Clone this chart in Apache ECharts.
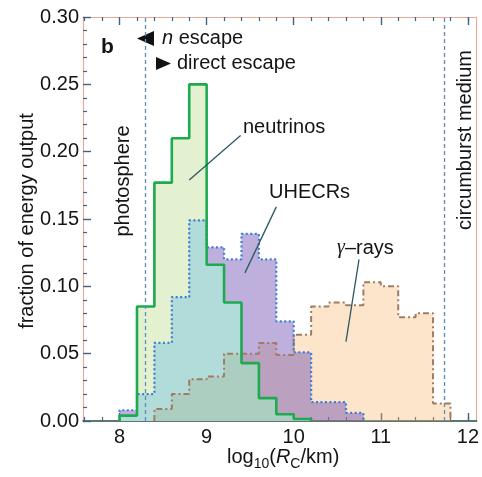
<!DOCTYPE html>
<html>
<head>
<meta charset="utf-8">
<script src="https://cdn.jsdelivr.net/npm/echarts@6/dist/echarts.min.js"></script>
<style>
  html, body { margin: 0; padding: 0; background: #fff; }
  #main { width: 482px; height: 477px; }
</style>
</head>
<body>
<div id="main"></div>
<script>
// histogram bins (left edge, width 0.2 in log10 R_C)
const binLeft = [8.0, 8.2, 8.4, 8.6, 8.8, 9.0, 9.2, 9.4, 9.6, 9.8, 10.0, 10.2, 10.4, 10.6, 10.8, 11.0, 11.2, 11.4, 11.6]
const binWidth = 0.2

// fraction of energy output per bin
const neutrinos = [0.004, 0.085, 0.177, 0.210, 0.250, 0.116, 0.088, 0.043, 0.017, 0.005, 0.0015, 0, 0, 0, 0, 0, 0, 0, 0]
const uhecrs    = [0.008, 0.020, 0.058, 0.092, 0.149, 0.129, 0.120, 0.139, 0.120, 0.074, 0.051, 0.014, 0.014, 0.006, 0, 0, 0, 0, 0]
const gammaRays = [0, 0, 0.009, 0.020, 0.031, 0.033, 0.050, 0.050, 0.058, 0.049, 0.064, 0.085, 0.088, 0.086, 0.103, 0.100, 0.077, 0.080, 0.013]

// axis ticks
const xMajorTicks = [8, 9, 10, 11, 12]
const xMinorTicks = [7.6, 7.8, 8.2, 8.4, 8.6, 8.8, 9.2, 9.4, 9.6, 9.8, 10.2, 10.4, 10.6, 10.8, 11.2, 11.4, 11.6, 11.8, 12.0]

// reference radii (vertical dashed lines)
const photosphereX = 8.30
const circumburstX = 11.73

// leader lines of the labels, in data coordinates
const neutrinoLeader = [[9.39, 0.212], [8.80, 0.179]]
const uhecrLeader = [[9.80, 0.159], [9.44, 0.110]]
const gammaLeader = [[10.75, 0.120], [10.60, 0.059]]

// overlap of the filled regions (Mathematica shades them differently)
const nuUh = neutrinos.map((v, i) => Math.min(v, uhecrs[i]))
const nuUhGa = nuUh.map((v, i) => Math.min(v, gammaRays[i]))

// turns bin values into the corner points of a step outline
function stepPoints(vals) {
  const first = vals.findIndex(v => v > 0)
  let last = vals.length - 1
  while (last >= 0 && !(vals[last] > 0)) last--
  const pts = [[binLeft[first], 0]]
  for (let i = first; i <= last; i++) pts.push([binLeft[i], vals[i]])
  pts.push([+(binLeft[last] + binWidth).toFixed(2), 0])
  return pts
}

function areaSeries(name, vals, color) {
  return {
    name: name, type: 'line', step: 'end', data: stepPoints(vals),
    showSymbol: false, silent: true,
    lineStyle: { width: 0, opacity: 0 },
    areaStyle: { color: color, opacity: 1 }
  }
}

function outlineSeries(name, vals, lineStyle) {
  return {
    name: name, type: 'line', step: 'end', data: stepPoints(vals),
    showSymbol: false, silent: true,
    lineStyle: lineStyle
  }
}

const FONT = '"Liberation Sans", Arial, sans-serif'
const TXT = '#141414'
const frameColor = '#e9aa9a'
const tickColor = '#3f6280'

const chart = echarts.init(document.getElementById('main'), null, { renderer: 'canvas' })

const gammaLine = outlineSeries('gamma-line', gammaRays, { color: '#a07c62', width: 2, type: [6, 3, 2, 3] })
gammaLine.markLine = {
  silent: true, symbol: 'none', label: { show: false },
  lineStyle: { color: '#5b8db5', width: 1.3, type: [4, 3] },
  data: [{ xAxis: photosphereX }, { xAxis: circumburstX }]
}

const nuLine = outlineSeries('nu-line', neutrinos, { color: '#1cab4f', width: 2.6 })
nuLine.markLine = {
  silent: true, symbol: 'none', label: { show: false },
  lineStyle: { color: '#2c5962', width: 1.3, type: 'solid' },
  data: [
    [{ coord: neutrinoLeader[0] }, { coord: neutrinoLeader[1] }],
    [{ coord: uhecrLeader[0] }, { coord: uhecrLeader[1] }],
    [{ coord: gammaLeader[0] }, { coord: gammaLeader[1] }]
  ]
}

const option = {
  animation: false,
  grid: { left: 83, right: 1, top: 17, bottom: 56, containLabel: false },
  xAxis: [
    {
      type: 'value', position: 'bottom', min: 7.58, max: 12.1,
      axisLine: { show: true, lineStyle: { color: '#2b4a3c', width: 1.5 } },
      axisTick: { show: true, inside: true, length: 8, customValues: xMajorTicks, lineStyle: { color: tickColor, width: 1.4 } },
      axisLabel: { customValues: xMajorTicks, fontSize: 20, color: TXT, fontFamily: FONT, margin: 6 },
      splitLine: { show: false }
    },
    {
      type: 'value', position: 'bottom', min: 7.58, max: 12.1,
      axisLine: { show: false },
      axisTick: { show: true, inside: true, length: 4, customValues: xMinorTicks, lineStyle: { color: tickColor, width: 1.2 } },
      axisLabel: { show: false }, splitLine: { show: false }
    },
    {
      type: 'value', position: 'top', min: 7.58, max: 12.1,
      axisLine: { show: true, lineStyle: { color: frameColor, width: 1.2 } },
      axisTick: { show: true, inside: true, length: 8, customValues: xMajorTicks, lineStyle: { color: tickColor, width: 1.4 } },
      axisLabel: { show: false }, splitLine: { show: false }
    },
    {
      type: 'value', position: 'top', min: 7.58, max: 12.1,
      axisLine: { show: false },
      axisTick: { show: true, inside: true, length: 4, customValues: xMinorTicks, lineStyle: { color: tickColor, width: 1.2 } },
      axisLabel: { show: false }, splitLine: { show: false }
    }
  ],
  yAxis: [
    {
      type: 'value', position: 'left', min: 0, max: 0.3, interval: 0.05,
      axisLine: { show: true, lineStyle: { color: frameColor, width: 1.2 } },
      axisTick: { show: true, inside: true, length: 8, lineStyle: { color: tickColor, width: 1.4 } },
      minorTick: { show: true, splitNumber: 5, length: 4, lineStyle: { color: tickColor, width: 1.2 } },
      axisLabel: { fontSize: 20, color: TXT, fontFamily: FONT, margin: 4, formatter: v => v.toFixed(2) },
      splitLine: { show: false }, minorSplitLine: { show: false }
    },
    {
      type: 'value', position: 'right', min: 0, max: 0.3, interval: 0.05,
      axisLine: { show: true, lineStyle: { color: frameColor, width: 1.2 } },
      axisTick: { show: false }, axisLabel: { show: false },
      splitLine: { show: false }
    }
  ],
  series: [
    areaSeries('gamma-area', gammaRays, 'rgba(250,180,110,0.35)'),
    areaSeries('uhecr-area', uhecrs, 'rgba(110,77,177,0.45)'),
    areaSeries('nu-area', neutrinos, 'rgba(175,215,120,0.35)'),
    areaSeries('nu-uhecr-area', nuUh, 'rgb(178,220,218)'),
    areaSeries('nu-uhecr-gamma-area', nuUhGa, 'rgb(172,206,192)'),
    gammaLine,
    outlineSeries('uhecr-line', uhecrs, { color: '#3b7fd6', width: 2.2, type: [2, 2.5] }),
    nuLine
  ],
  graphic: [
    { type: 'text', x: 101, y: 47, style: { text: 'b', font: 'bold 21px ' + FONT, fill: TXT, verticalAlign: 'middle' } },
    { type: 'polygon', shape: { points: [[137, 38.5], [154, 31], [154, 46]] }, style: { fill: '#111' } },
    { type: 'polygon', shape: { points: [[156, 57], [156, 70], [171, 63.5]] }, style: { fill: '#111' } },
    {
      type: 'text', x: 162, y: 38,
      style: {
        text: '{i|n} escape', font: '20px ' + FONT, fill: TXT, verticalAlign: 'middle',
        rich: { i: { fontStyle: 'italic', fontSize: 20, fontFamily: FONT, fill: TXT } }
      }
    },
    { type: 'text', x: 177, y: 63.5, style: { text: 'direct escape', font: '20px ' + FONT, fill: TXT, verticalAlign: 'middle' } },
    { type: 'text', x: 123, y: 181, rotation: Math.PI / 2, style: { text: 'photosphere', font: '20px ' + FONT, fill: TXT, align: 'center', verticalAlign: 'middle' } },
    { type: 'text', x: 465, y: 140, rotation: Math.PI / 2, style: { text: 'circumburst medium', font: '20px ' + FONT, fill: TXT, align: 'center', verticalAlign: 'middle' } },
    { type: 'text', x: 243, y: 127, style: { text: 'neutrinos', font: '20px ' + FONT, fill: TXT, verticalAlign: 'middle' } },
    { type: 'text', x: 269, y: 192, style: { text: 'UHECRs', font: '20px ' + FONT, fill: TXT, verticalAlign: 'middle' } },
    {
      type: 'text', x: 337, y: 248,
      style: {
        text: '{g|γ}–rays', font: '20px ' + FONT, fill: TXT, verticalAlign: 'middle',
        rich: { g: { fontStyle: 'italic', fontSize: 20, fontFamily: '"Liberation Serif", serif', fill: TXT } }
      }
    },
    { type: 'text', x: 27, y: 221, rotation: Math.PI / 2, style: { text: 'fraction of energy output', font: '20px ' + FONT, fill: TXT, align: 'center', verticalAlign: 'middle' } },
    {
      type: 'text', x: 227, y: 457,
      style: {
        text: '{b|log}{s|10}{b|(}{i|R}{s|C}{b|/km)}', fill: TXT, verticalAlign: 'middle',
        rich: {
          b: { fontSize: 20, fontFamily: FONT, fill: TXT, lineHeight: 28, verticalAlign: 'middle' },
          i: { fontSize: 20, fontFamily: FONT, fontStyle: 'italic', fill: TXT, lineHeight: 28, verticalAlign: 'middle' },
          s: { fontSize: 14, fontFamily: FONT, fill: TXT, lineHeight: 14, verticalAlign: 'bottom' }
        }
      }
    }
  ]
}

chart.setOption(option)
</script>
</body>
</html>
